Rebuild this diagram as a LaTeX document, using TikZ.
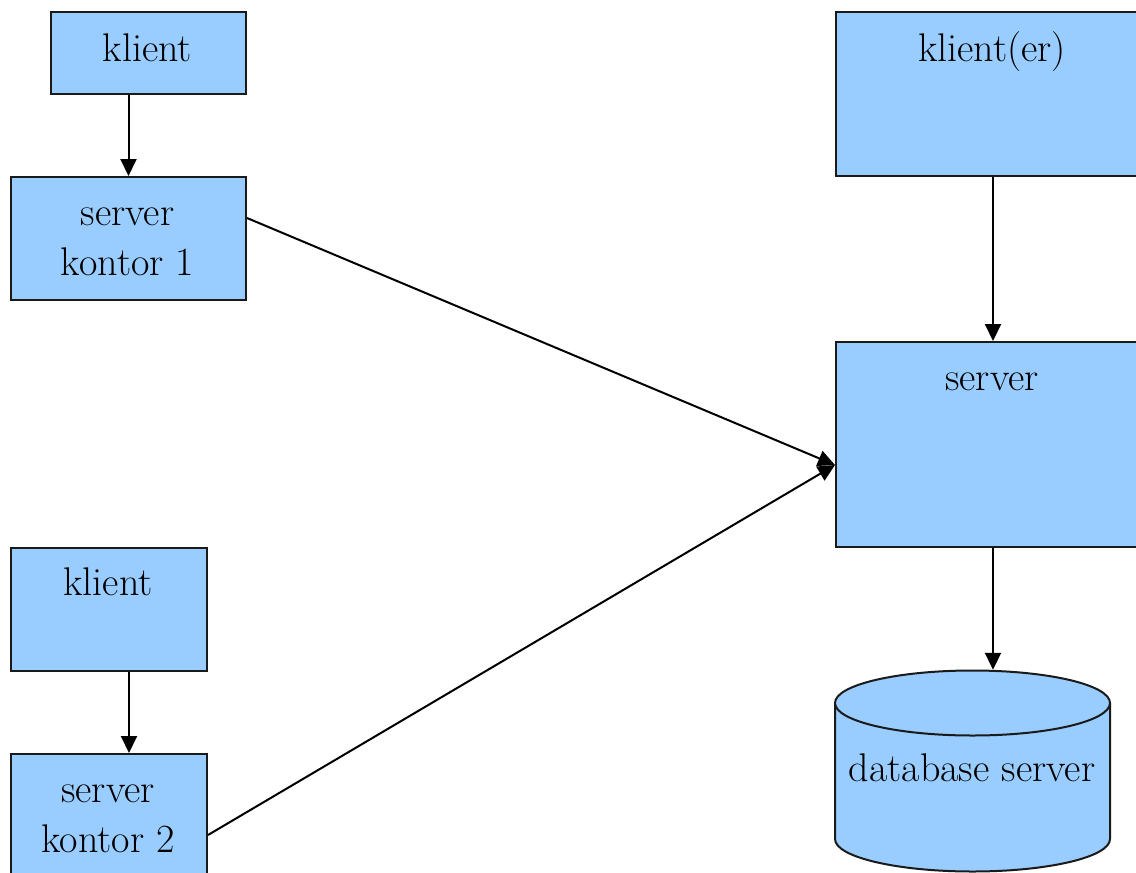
\documentclass[tikz,border=0pt]{standalone}
\usetikzlibrary{arrows.meta,calc}
\definecolor{boxblue}{HTML}{99CCFF}
\definecolor{edgegray}{HTML}{1A1A1A}
\begin{document}
\begin{tikzpicture}[x=1pt,y=-1pt,
  box/.style={draw=edgegray, line width=2pt, fill=boxblue, rectangle, inner sep=0pt, anchor=north west},
  lbl/.style={font=\fontsize{40}{50}\selectfont, align=center, inner sep=0pt},
  arr/.style={-{Triangle[width=16pt,length=17pt]}, line width=2pt, draw=black}]
\useasboundingbox (0,0) rectangle (1136,873);
\clip (0,0) rectangle (1136,873);
\fill[white] (0,0) rectangle (1136,873);
% boxes
\node[box, minimum width=195pt, minimum height=82pt] (k1) at (50,11) {};
\node[box, minimum width=235pt, minimum height=123pt] (sk1) at (10,176) {};
\node[box, minimum width=196pt, minimum height=123pt] (k2) at (10,547) {};
\node[box, minimum width=196pt, minimum height=162pt] (sk2) at (10,753) {};
\node[box, minimum width=314pt, minimum height=164pt] (ke) at (835,11) {};
\node[box, minimum width=314pt, minimum height=205pt] (srv) at (835,341) {};
% database cylinder
\node[inner sep=0pt, minimum width=275pt, minimum height=202pt] (db) at (972.5,771) {};
\fill[boxblue] (835,703) -- (835,839) arc[start angle=180, end angle=360, x radius=137.5, y radius=-32.5] -- (1110,703) -- cycle;
\draw[edgegray, line width=2pt] (835,703) -- (835,839) arc[start angle=180, end angle=360, x radius=137.5, y radius=-32.5] -- (1110,703);
\draw[edgegray, line width=2pt, fill=boxblue] (972.5,703) ellipse[x radius=137.5, y radius=32.5];
% texts
\node[lbl, anchor=base] (k1t) at (147.5,61) {klient};
\node[lbl, anchor=base] (sk1t) at (127.5,275) {server\\kontor 1};
\node[lbl, anchor=base] (k2t) at (108,595) {klient};
\node[lbl, anchor=base] (sk2t) at (108,852) {server\\kontor 2};
\node[lbl, anchor=base] (ket) at (992,61) {klient(er)};
\node[lbl, anchor=base] (srvt) at (992,390) {server};
\node[lbl, anchor=base] (dbt) at (972,781) {database server};
% connectors
\draw[arr] (k1.south -| sk1.north) -- (sk1.north);
\draw[arr] ($(k2.south)+(20,0)$) -- ($(sk2.north)+(20,0)$);
\draw[arr] (ke.south) -- (srv.north);
\draw[arr] (srv.south) -- (srv.south |- db.north);
\coordinate (hub) at ($(srv.north west)+(0,124)$);
\draw[arr] ($(sk1.north east)+(0,42)$) -- (hub);
\draw[arr] ($(sk2.north east)+(0,82)$) -- (hub);
\end{tikzpicture}
\end{document}
